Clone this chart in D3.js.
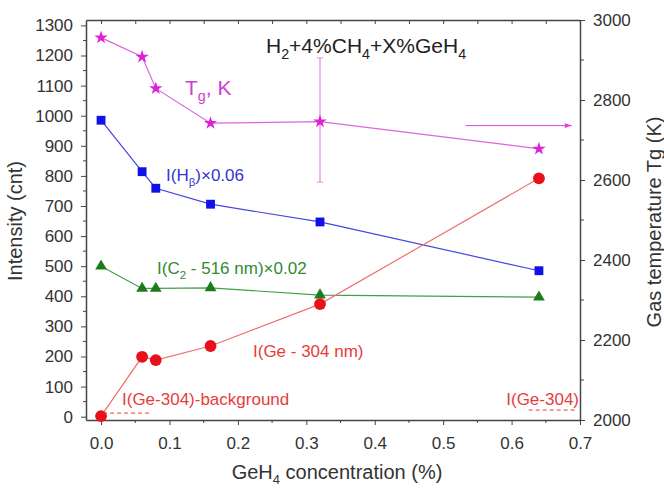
<!DOCTYPE html>
<html lang="en">
<head>
<meta charset="utf-8">
<script src="https://d3js.org/d3.v7.min.js"></script>
<style>
  body { margin: 0; background: #fff; }
  text { font-family: "Liberation Sans", Arial, sans-serif; }
</style>
</head>
<body>
<div id="mainDiv"></div>
<script>
const width = 664
const height = 489
const margins = { top: 20, right: 84, bottom: 69, left: 86 }

// data
const conc = [0, 0.06, 0.08, 0.16, 0.32, 0.64]
const tg = [2956, 2908, 2829, 2742, 2746, 2678]       // right axis, K
const hBeta = [985, 814, 759, 706, 647, 485]          // I(Hb) x 0.06
const c2 = [500, 426, 426, 428, 404, 397]             // I(C2) x 0.02
const ge = [2, 199, 188, 235, 374, 792]               // I(Ge - 304 nm)
const tgErr = { x: 0.32, low: 2595, high: 2905 }
const leftTicks = d3.range(0, 1301, 100)
const rightTicks = [2000, 2200, 2400, 2600, 2800, 3000]
const xTicks = [0, 0.1, 0.2, 0.3, 0.4, 0.5, 0.6, 0.7]

const svg = d3.select('#mainDiv').append('svg')
    .attr('width', width)
    .attr('height', height)

const x = d3.scaleLinear().domain([-0.022, 0.7]).range([margins.left, width - margins.right])
const yL = d3.scaleLinear().domain([-11, 1318]).range([height - margins.bottom, margins.top])
const yR = d3.scaleLinear().domain([2000, 3000]).range([height - margins.bottom, margins.top])

const axisColor = '#444'
const textColor = '#333'
const tickFont = 17

// axes
const bottomAxis = svg.append('g')
    .attr('transform', `translate(0,${height - margins.bottom})`)
    .call(d3.axisBottom(x).tickValues(xTicks).tickFormat(d3.format('.1f')).tickSize(5).tickSizeOuter(0))
bottomAxis.append('g').selectAll('line')
    .data(d3.range(0.05, 0.7, 0.1))
    .join('line')
    .attr('x1', d => x(d)).attr('x2', d => x(d))
    .attr('y1', 0).attr('y2', 3)
    .attr('stroke', axisColor)

svg.append('g')
    .attr('transform', `translate(0,${margins.top})`)
    .call(d3.axisTop(x).tickValues(d3.range(0, 0.66, 0.05)).tickSize(-4).tickSizeOuter(0).tickFormat(''))

const leftAxis = svg.append('g')
    .attr('transform', `translate(${margins.left},0)`)
    .call(d3.axisLeft(yL).tickValues(leftTicks).tickFormat(d3.format('d')).tickSize(5).tickSizeOuter(0))
leftAxis.append('g').selectAll('line')
    .data(d3.range(50, 1300, 100))
    .join('line')
    .attr('x1', 0).attr('x2', -3)
    .attr('y1', d => yL(d)).attr('y2', d => yL(d))
    .attr('stroke', axisColor)

const rightAxis = svg.append('g')
    .attr('transform', `translate(${width - margins.right},0)`)
    .call(d3.axisRight(yR).tickValues(rightTicks).tickFormat(d3.format('d')).tickSize(5).tickSizeOuter(0))
rightAxis.append('g').selectAll('line')
    .data(d3.range(2100, 3000, 200))
    .join('line')
    .attr('x1', 0).attr('x2', 4)
    .attr('y1', d => yR(d)).attr('y2', d => yR(d))
    .attr('stroke', axisColor)

svg.selectAll('.domain').attr('stroke', axisColor).attr('stroke-width', 1.5)
svg.selectAll('.tick line').attr('stroke', axisColor)
svg.selectAll('.tick text').attr('font-size', tickFont).attr('fill', textColor)
    .attr('font-family', '"Liberation Sans", Arial, sans-serif')
bottomAxis.selectAll('.tick text').attr('y', 17)
leftAxis.selectAll('.tick text').attr('x', -13)
rightAxis.selectAll('.tick text').attr('x', 13)

// axis titles
svg.append('text')
    .attr('transform', 'translate(22,221) rotate(-90)')
    .attr('text-anchor', 'middle')
    .attr('font-size', 20).attr('fill', textColor)
    .text('Intensity (cnt)')

svg.append('text')
    .attr('transform', 'translate(661,222) rotate(-90)')
    .attr('text-anchor', 'middle')
    .attr('font-size', 20).attr('fill', textColor)
    .text('Gas temperature Tg (K)')

const xt = svg.append('text')
    .attr('x', 337)
    .attr('y', 479)
    .attr('text-anchor', 'middle')
    .attr('font-size', 20).attr('fill', textColor)
xt.append('tspan').text('GeH')
xt.append('tspan').attr('font-size', 13).attr('dy', 5).text('4')
xt.append('tspan').attr('dy', -5).text(' concentration (%)')

// series
const pts = (ys) => conc.map((c, i) => [c, ys[i]])

function drawSeries(ys, scale, lineColor, fill, symbol, size) {
    const line = d3.line().x(d => x(d[0])).y(d => scale(d[1]))
    svg.append('path')
        .datum(pts(ys))
        .attr('d', line)
        .attr('fill', 'none')
        .attr('stroke', lineColor)
        .attr('stroke-width', 1.2)
    svg.append('g').selectAll('path')
        .data(pts(ys))
        .join('path')
        .attr('transform', d => `translate(${x(d[0])},${scale(d[1])})`)
        .attr('d', d3.symbol().type(symbol).size(size))
        .attr('fill', fill)
}

// Tg error bar and arrow
const magenta = '#e23fe0'
svg.append('line')
    .attr('x1', x(tgErr.x)).attr('x2', x(tgErr.x))
    .attr('y1', yR(tgErr.high)).attr('y2', yR(tgErr.low))
    .attr('stroke', '#e58ae3').attr('stroke-width', 1.2)
svg.selectAll('.cap')
    .data([tgErr.low, tgErr.high])
    .join('line')
    .attr('x1', x(tgErr.x) - 3).attr('x2', x(tgErr.x) + 3)
    .attr('y1', d => yR(d)).attr('y2', d => yR(d))
    .attr('stroke', '#e58ae3')

svg.append('defs').append('marker')
    .attr('id', 'arr')
    .attr('viewBox', '0 0 10 10')
    .attr('refX', 10).attr('refY', 5)
    .attr('markerWidth', 8).attr('markerHeight', 7)
    .attr('orient', 'auto')
    .append('path').attr('d', 'M0,1.5 L10,5 L0,8.5 Z').attr('fill', magenta)
svg.append('line')
    .attr('x1', x(0.533)).attr('x2', x(0.688))
    .attr('y1', yR(2736)).attr('y2', yR(2736))
    .attr('stroke', magenta).attr('stroke-width', 1)
    .attr('marker-end', 'url(#arr)')

drawSeries(tg, yR, '#dc66da', '#e020d8', d3.symbolStar, 55)
drawSeries(hBeta, yL, '#4646e0', '#1010e8', d3.symbolSquare, 78)
drawSeries(c2, yL, '#43a043', '#1c7c1c', d3.symbolTriangle, 60)
drawSeries(ge, yL, '#f07070', '#e8101a', d3.symbolCircle, 110)

// dashed background markers
const red = '#e83c3c'
svg.append('line')
    .attr('x1', x(0.003)).attr('x2', x(0.07))
    .attr('y1', yL(12)).attr('y2', yL(12))
    .attr('stroke', red).attr('stroke-dasharray', '4,3')
svg.append('line')
    .attr('x1', x(0.625)).attr('x2', x(0.695))
    .attr('y1', yL(22)).attr('y2', yL(22))
    .attr('stroke', red).attr('stroke-dasharray', '4,3')

// labels
function label(xp, yp, color, size, parts, anchor) {
    const t = svg.append('text')
        .attr('x', xp).attr('y', yp)
        .attr('font-size', size).attr('fill', color)
        .attr('text-anchor', anchor || 'start')
    let shifted = false
    parts.forEach(p => {
        if (p.sub) {
            t.append('tspan').attr('font-size', size * 0.68).attr('dy', size * 0.3).text(p.sub)
            shifted = true
        } else {
            t.append('tspan').attr('dy', shifted ? -size * 0.3 : 0).text(p.t)
            shifted = false
        }
    })
    return t
}

label(266, 53, '#222', 21, [{ t: 'H' }, { sub: '2' }, { t: '+4%CH' }, { sub: '4' }, { t: '+X%GeH' }, { sub: '4' }])
label(185, 95, '#d040cc', 21, [{ t: 'T' }, { sub: 'g' }, { t: ', K' }])
label(166, 181, '#3535d0', 17, [{ t: 'I(H' }, { sub: 'β' }, { t: ')×0.06' }])
label(157, 274, '#338a33', 17, [{ t: 'I(C' }, { sub: '2' }, { t: ' - 516 nm)×0.02' }])
label(253, 357, red, 17, [{ t: 'I(Ge - 304 nm)' }])
label(122, 405, red, 17, [{ t: 'I(Ge-304)-background' }])
label(579, 405, red, 17, [{ t: 'I(Ge-304)' }], 'end')
</script>
</body>
</html>
